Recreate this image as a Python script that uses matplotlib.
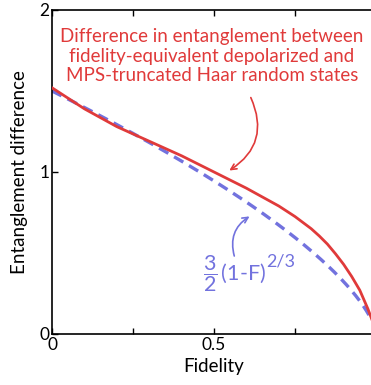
import numpy as np
import matplotlib
matplotlib.use("Agg")
import matplotlib.pyplot as plt

# entanglement gap between depolarized and MPS-truncated states vs fidelity
fidelity = [0.0, 0.1, 0.2, 0.3, 0.4, 0.5, 0.6, 0.65, 0.7, 0.75, 0.8, 0.825, 0.85,
            0.875, 0.9, 0.925, 0.95, 0.975, 0.99, 1.0]
ent_diff = [1.52, 1.39, 1.28, 1.19, 1.10, 1.00, 0.90, 0.845, 0.79, 0.725, 0.65, 0.605, 0.555,
            0.495, 0.43, 0.355, 0.27, 0.155, 0.075, 0.0]

xticks = [0, 0.25, 0.5, 0.75]
xticklabels = ["0", "", "0.5", ""]
yticks = [0, 1, 2]
yticklabels = ["0", "1", "2"]

RED = "#e03a3a"
BLUE = "#7272de"

plt.rcParams['font.family'] = ['Lato', 'DejaVu Sans']
plt.rcParams['mathtext.fontset'] = 'custom'
plt.rcParams['mathtext.rm'] = 'Lato'
plt.rcParams['mathtext.it'] = 'Lato:italic'

fig = plt.figure(figsize=(3.71, 3.85), dpi=100)
ax = fig.add_axes([52/371, 51/385, 324/371, 324/385])

# analytic curve 3/2 (1-F)^(2/3)
F = np.linspace(0, 1, 400)
ax.plot(F, 1.5 * (1 - F) ** (2/3), color=BLUE, lw=2.4, dashes=(3.2, 2.0), zorder=2)
ax.plot(fidelity, ent_diff, color=RED, lw=2.0, zorder=3)

ax.set_xlim(0, 1)
ax.set_ylim(0, 2)
ax.set_xticks(xticks)
ax.set_xticklabels(xticklabels)
ax.set_yticks(yticks)
ax.set_yticklabels(yticklabels)
ax.tick_params(direction="in", top=True, length=4, width=1, labelsize=12.5, pad=2)
for s in ax.spines.values():
    s.set_linewidth(1.2)

ax.set_xlabel("Fidelity", fontsize=13.5, labelpad=4)
ax.set_ylabel("Entanglement difference", fontsize=13.5, labelpad=8)

ax.text(0.494, 1.716,
        "Difference in entanglement between\nfidelity-equivalent depolarized and\nMPS-truncated Haar random states",
        color=RED, fontsize=13.5, ha="center", va="center", linespacing=1.2)
ax.annotate("", xy=(0.54, 1.0), xytext=(0.61, 1.475),
            arrowprops=dict(arrowstyle="->", color=RED, lw=1.2,
                            connectionstyle="arc3,rad=-0.45"))

formula = ax.text(0.465, 0.375, r"$\dfrac{3}{2}\,$(1-F)", color=BLUE, fontsize=15.5,
                  ha="left", va="center")
ax.annotate("2/3", xy=(1, 1), xycoords=formula, xytext=(0, -6),
            textcoords="offset points", color=BLUE, fontsize=13,
            ha="left", va="center")
ax.annotate("", xy=(0.617, 0.735), xytext=(0.565, 0.465),
            arrowprops=dict(arrowstyle="->", color=BLUE, lw=1.2,
                            connectionstyle="arc3,rad=-0.4"))

fig.savefig("out.png", dpi=100)
